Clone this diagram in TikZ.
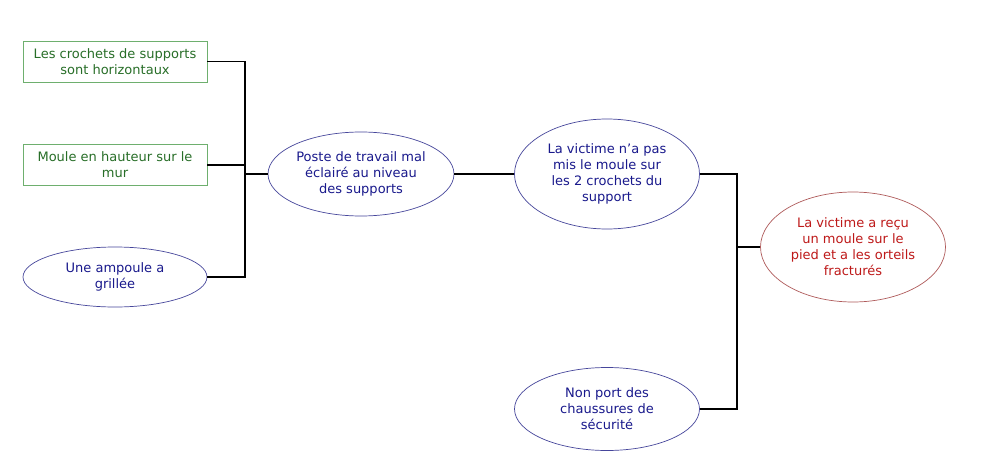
\documentclass[tikz,border=0pt]{standalone}
\usepackage{fontspec}
\setmainfont{DejaVu Sans}
\usetikzlibrary{shapes.geometric}
\definecolor{gtext}{RGB}{40,110,40}
\definecolor{gline}{RGB}{110,175,110}
\definecolor{btext}{RGB}{25,25,140}
\definecolor{bline}{RGB}{70,70,155}
\definecolor{rtext}{RGB}{190,25,25}
\definecolor{rline}{RGB}{175,90,90}
\tikzset{
  every node/.style={font=\fontsize{13}{16}\selectfont, align=center, inner sep=0pt},
  gbox/.style={draw=gline, text=gtext, minimum width=184pt, minimum height=41pt, line width=0.8pt},
  bell/.style={ellipse, draw=bline, text=btext, line width=0.7pt},
  rell/.style={ellipse, draw=rline, text=rtext, line width=0.7pt},
  conn/.style={draw=black, line width=1.2pt}
}
\begin{document}
\begin{tikzpicture}[x=1pt,y=-1pt]
\useasboundingbox[fill=white] (0,0) rectangle (1000,468);
\node[gbox] (b1) at (115,61.5) {Les crochets de supports\\sont horizontaux};
\node[gbox] (b2) at (115,165) {Moule en hauteur sur le\\mur};
\node[bell, minimum width=184pt, minimum height=60pt] (e1) at (115,277) {Une ampoule a\\grillée};
\node[bell, minimum width=186pt, minimum height=84pt] (p) at (361,174) {Poste de travail mal\\éclairé au niveau\\des supports};
\node[bell, minimum width=185pt, minimum height=110pt] (v) at (607,174) {La victime n’a pas\\mis le moule sur\\les 2 crochets du\\support};
\node[bell, minimum width=185pt, minimum height=83pt] (n) at (607,409) {Non port des\\chaussures de\\sécurité};
\node[rell, minimum width=185pt, minimum height=110pt] (r) at (853,247) {La victime a reçu\\un moule sur le\\pied et a les orteils\\fracturés};
\coordinate (bus1) at (245,174);
\coordinate (bus2) at (737,247);
\draw[conn] (b1.east) -| (bus1);
\draw[conn] (b2.east) -- (b2.east -| bus1);
\draw[conn] (e1.east) -| (bus1);
\draw[conn] (bus1) -- (p.west);
\draw[conn] (p.east) -- (v.west);
\draw[conn] (v.east) -| (bus2);
\draw[conn] (n.east) -| (bus2);
\draw[conn] (bus2) -- (r.west);
\end{tikzpicture}
\end{document}
